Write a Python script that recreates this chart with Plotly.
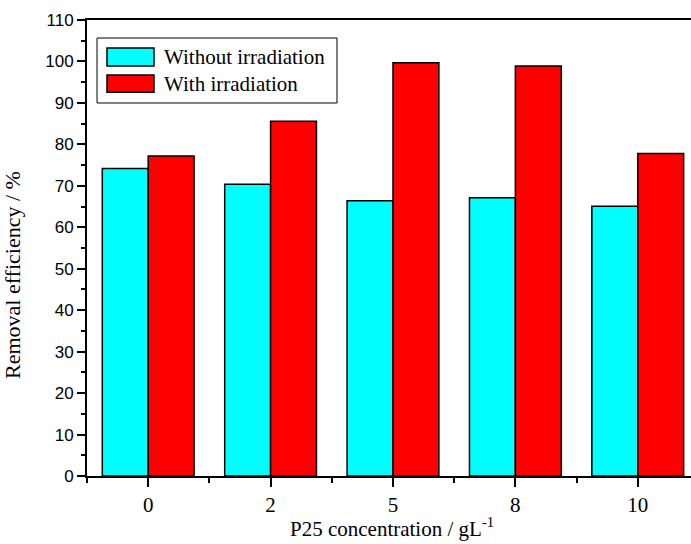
import plotly.graph_objects as go

categories = ["0", "2", "5", "8", "10"]
without_irr = [74.2, 70.4, 66.4, 67.1, 65.1]
with_irr = [77.2, 85.6, 99.7, 98.9, 77.8]
series_names = ["Without irradiation", "With irradiation"]
series_colors = ["#00FFFF", "#FF0000"]
y_ticks = list(range(0, 111, 10))
x_title = "P25 concentration / gL<sup>-1</sup>"
y_title = "Removal efficiency / %"

pos = list(range(len(categories)))

fig = go.Figure()
for name, vals, col in zip(series_names, [without_irr, with_irr], series_colors):
    fig.add_trace(go.Bar(x=pos, y=vals, name=name, marker=dict(color=col, line=dict(color="black", width=1.5)),
                         showlegend=False))

serif = "Liberation Serif"
sans = "Liberation Sans"

fig.update_layout(
    width=691, height=544,
    margin=dict(l=87, r=0, t=20, b=68),
    paper_bgcolor="white", plot_bgcolor="white",
    barmode="group", bargap=0.25, bargroupgap=0,
    xaxis=dict(range=[-0.5, 4.435], tickmode="array", tickvals=pos, ticktext=categories,
               showline=True, linecolor="black", linewidth=2, mirror=True,
               ticks="outside", ticklen=9, tickwidth=2, tickcolor="black",
               minor=dict(tickmode="array", tickvals=[p - 0.5 for p in pos], ticks="outside", ticklen=5, tickwidth=2, tickcolor="black"),
               showgrid=False, zeroline=False,
               tickfont=dict(family=serif, size=21, color="black")),
    yaxis=dict(range=[0, 110], tickmode="array", tickvals=y_ticks,
               showline=True, linecolor="black", linewidth=2, mirror=False,
               ticks="outside", ticklen=8, tickwidth=2, tickcolor="black",
               minor=dict(dtick=5, ticks="outside", ticklen=4, tickwidth=2, tickcolor="black", showgrid=False),
               showgrid=False, zeroline=False,
               tickfont=dict(family=sans, size=17, color="black")),
)

# axis titles
fig.add_annotation(xref="paper", yref="paper", x=0.505, y=-0.114, text=x_title, showarrow=False,
                   xanchor="center", yanchor="middle", font=dict(family=serif, size=21, color="black"))
fig.add_annotation(xref="paper", yref="paper", x=-0.1225, y=0.4408, text=y_title, showarrow=False, textangle=-90,
                   xanchor="center", yanchor="middle", font=dict(family=serif, size=22, color="black"))

# legend drawn as a box with swatches
fig.add_shape(type="rect", xref="paper", yref="paper", x0=0.0166, x1=0.4139, y0=0.818, y1=0.9605,
              line=dict(color="black", width=1), fillcolor="white")
sw_y = [(0.8991, 0.9386), (0.8414, 0.8794)]
for (y0, y1), name, col in zip(sw_y, series_names, series_colors):
    fig.add_shape(type="rect", xref="paper", yref="paper", x0=0.0331, x1=0.1109, y0=y0, y1=y1,
                  line=dict(color="black", width=1.5), fillcolor=col)
    fig.add_annotation(xref="paper", yref="paper", x=0.1237, y=(y0 + y1) / 2, text=name, showarrow=False,
                       xanchor="left", yanchor="middle", font=dict(family=serif, size=21, color="black"))

fig.write_html("out.html")
